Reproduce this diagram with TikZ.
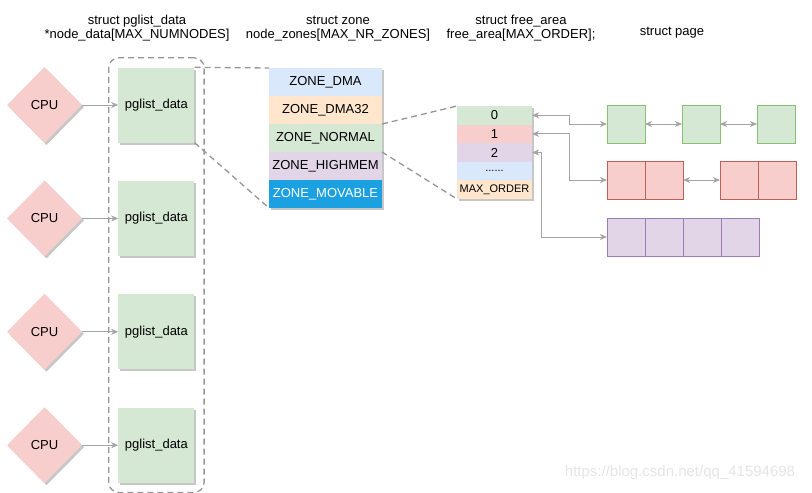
\documentclass[tikz,border=0pt]{standalone}
\usepackage{fontspec}
\setmainfont{Liberation Sans}
\usepackage{xcolor}
\usepackage{tikz}
\usetikzlibrary{shapes,arrows.meta,positioning,shadows,fit}
\definecolor{cpupink}{RGB}{248,206,204}
\definecolor{nodegreen}{RGB}{213,232,212}
\definecolor{zoneblue}{RGB}{218,232,252}
\definecolor{zoneorange}{RGB}{255,230,204}
\definecolor{zonepurple}{RGB}{225,213,231}
\definecolor{movableblue}{RGB}{27,161,226}
\definecolor{linkgray}{RGB}{165,165,165}
\definecolor{dashgray}{RGB}{150,150,150}
\definecolor{greenedge}{RGB}{140,190,115}
\definecolor{rededge}{RGB}{190,95,90}
\definecolor{purpleedge}{RGB}{160,125,176}

\tikzset{
  boxshadow/.style={drop shadow={shadow xshift=2pt, shadow yshift=-2pt, fill=black, opacity=0.22}},
  cpu/.style={diamond, fill=cpupink, inner sep=0pt, minimum width=75pt, minimum height=76pt, boxshadow},
  pgbox/.style={rectangle, fill=nodegreen, inner sep=0pt, minimum width=76pt, minimum height=75pt, boxshadow},
  zonecell/.style={rectangle, inner sep=0pt, outer sep=0pt, minimum width=113pt, minimum height=28pt, boxshadow},
  ordercell/.style={rectangle, inner sep=0pt, outer sep=0pt, minimum width=75pt, minimum height=18.6pt, boxshadow},
  pagebox/.style={draw, rectangle, line width=1pt, inner sep=0pt, outer sep=0pt, minimum size=38pt},
  link/.style={draw=linkgray, line width=1pt, >={Stealth[length=7pt, width=6pt, inset=2pt]}},
  zoomline/.style={draw=dashgray, line width=1.3pt, dash pattern=on 6pt off 4pt},
  title/.style={align=center, font=\fontsize{13}{14}\selectfont}
}

\begin{document}
\begin{tikzpicture}[x=1pt, y=-1pt, font=\fontsize{13}{15}\selectfont]
  \useasboundingbox (0,0) rectangle (812,493);

  % titles
  \node[title] (pgtitle) at (137,28.5) {struct pglist\_data\\*node\_data[MAX\_NUMNODES]};
  \node[title] (zonetitle) at (338,28.5) {struct zone\\node\_zones[MAX\_NR\_ZONES]};
  \node[title] (freetitle) at (521,28.5) {struct free\_area\\free\_area[MAX\_ORDER];};
  \node[title] (pagetitle) at (672,33) {struct page};

  % cpus and nodes
  \node[cpu] (cpu1) at (44.5,105) {CPU};
  \node[cpu, below=37pt of cpu1] (cpu2) {CPU};
  \node[cpu, below=37pt of cpu2] (cpu3) {CPU};
  \node[cpu, below=37pt of cpu3] (cpu4) {CPU};
  \node[pgbox, right=36pt of cpu1] (pglist1) {pglist\_data};
  \node[pgbox, right=36pt of cpu2] (pglist2) {pglist\_data};
  \node[pgbox, right=36pt of cpu3] (pglist3) {pglist\_data};
  \node[pgbox, right=36pt of cpu4] (pglist4) {pglist\_data};
  \node[zoomline, rounded corners=10pt, inner sep=9.5pt, fit=(pglist1)(pglist4)] (numnodes) {};

  \draw[link, ->] (cpu1) -- (pglist1);
  \draw[link, ->] (cpu2) -- (pglist2);
  \draw[link, ->] (cpu3) -- (pglist3);
  \draw[link, ->] (cpu4) -- (pglist4);

  % zones
  \node[zonecell, fill=zoneblue] (dma) at (325.5,82) {ZONE\_DMA};
  \node[zonecell, fill=zoneorange, below=0pt of dma] (dma32) {ZONE\_DMA32};
  \node[zonecell, fill=nodegreen, below=0pt of dma32] (normal) {ZONE\_NORMAL};
  \node[zonecell, fill=zonepurple, below=0pt of normal] (highmem) {ZONE\_HIGHMEM};
  \node[zonecell, fill=movableblue, text=white, below=0pt of highmem] (movable) {ZONE\_MOVABLE};

  \draw[zoomline] (pglist1.north east) -- (dma.north west);
  \draw[zoomline] (pglist1.south east) -- (movable.south west);

  % free areas
  \node[ordercell, fill=nodegreen] (order0) at (494.5,115.3) {0};
  \node[ordercell, fill=cpupink, below=0pt of order0] (order1) {1};
  \node[ordercell, fill=zonepurple, below=0pt of order1] (order2) {2};
  \node[ordercell, fill=zoneblue, below=0pt of order2, font=\fontsize{11}{13}\selectfont] (orderdots) {......};
  \node[ordercell, fill=zoneorange, below=0pt of orderdots, font=\fontsize{11}{13}\selectfont] (maxorder) {MAX\_ORDER};

  \draw[zoomline] (normal.north east) -- (order0.north west);
  \draw[zoomline] (normal.south east) -- (maxorder.south west);

  % pages
  \node[pagebox, draw=greenedge, fill=nodegreen] (gpage1) at (626,124) {};
  \node[pagebox, draw=greenedge, fill=nodegreen, right=37pt of gpage1] (gpage2) {};
  \node[pagebox, draw=greenedge, fill=nodegreen, right=37pt of gpage2] (gpage3) {};

  \node[pagebox, draw=rededge, fill=cpupink] (rpage1) at (626,180) {};
  \node[pagebox, draw=rededge, fill=cpupink, right=0pt of rpage1] (rpage2) {};
  \node[pagebox, draw=rededge, fill=cpupink, right=37pt of rpage2] (rpage3) {};
  \node[pagebox, draw=rededge, fill=cpupink, right=0pt of rpage3] (rpage4) {};

  \node[pagebox, draw=purpleedge, fill=zonepurple] (ppage1) at (626,237) {};
  \node[pagebox, draw=purpleedge, fill=zonepurple, right=0pt of ppage1] (ppage2) {};
  \node[pagebox, draw=purpleedge, fill=zonepurple, right=0pt of ppage2] (ppage3) {};
  \node[pagebox, draw=purpleedge, fill=zonepurple, right=0pt of ppage3] (ppage4) {};

  \draw[link, <->] (order0.east) -| ([xshift=-38pt]gpage1.west) -- (gpage1.west);
  \draw[link, <->] (order1.east) -| ([xshift=-38pt]rpage1.west) -- (rpage1.west);
  \draw[link, <->] (order2.east) -| ([xshift=-66pt]ppage1.west) -- (ppage1.west);
  \draw[link, <->] (gpage1) -- (gpage2);
  \draw[link, <->] (gpage2) -- (gpage3);
  \draw[link, <->] (rpage2) -- (rpage3);

  \node[text=black!10, font=\fontsize{15}{17}\selectfont] (watermark) at (680,473) {https://blog.csdn.net/qq\_41594698};
\end{tikzpicture}
\end{document}
